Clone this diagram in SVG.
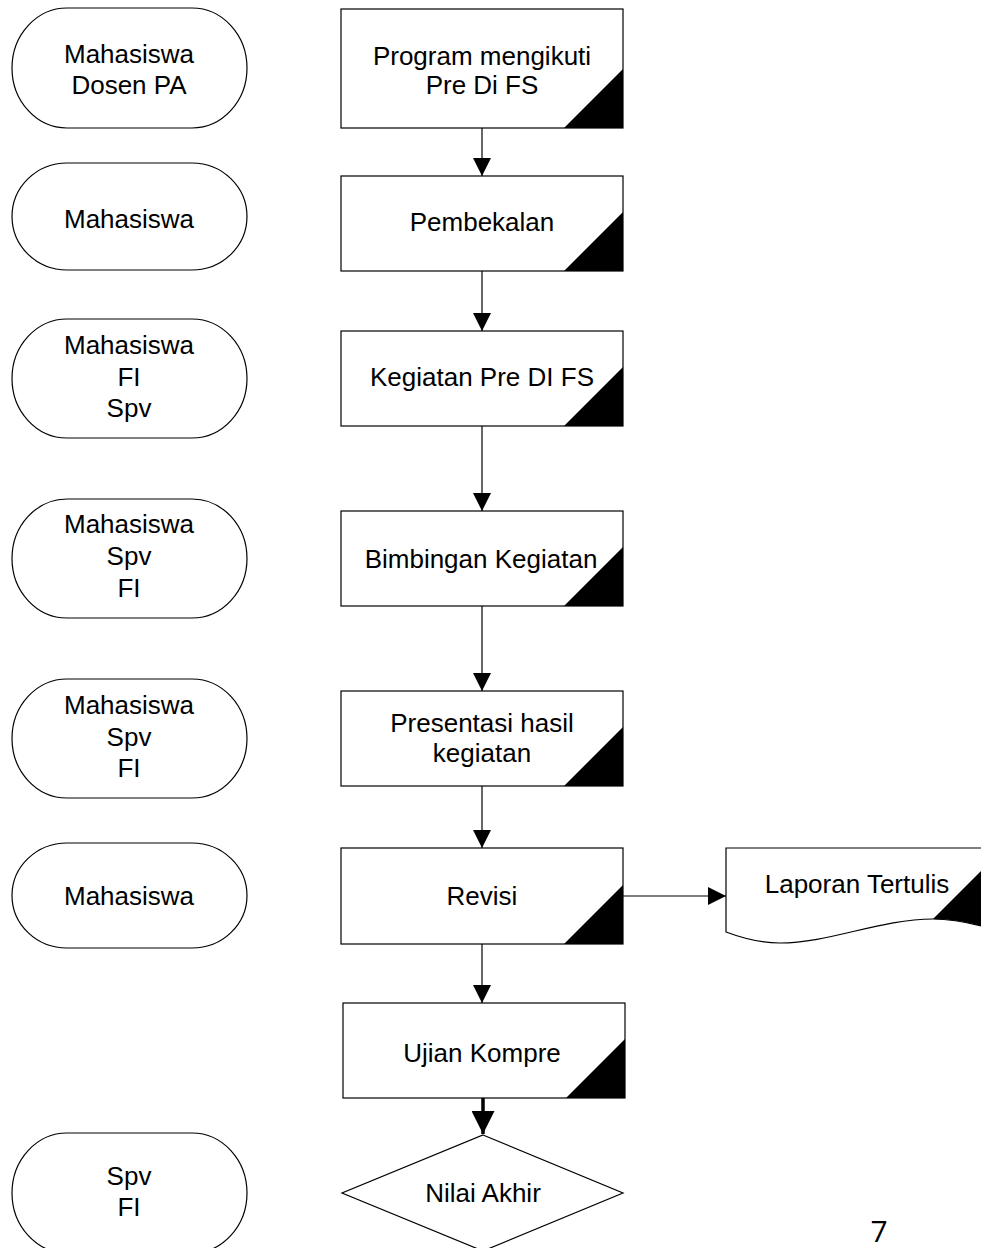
<svg xmlns="http://www.w3.org/2000/svg" width="981" height="1248" viewBox="0 0 981 1248">
<style>
  .shape { fill: #ffffff; stroke: #000000; stroke-width: 1.2; }
  .corner { fill: #000000; stroke: none; }
  .lbl { font-family: "Liberation Sans", Arial, sans-serif; font-size: 26px; fill: #000000; text-anchor: middle; }
  .conn { stroke: #000000; stroke-width: 1.2; fill: none; }
  .thick { stroke: #000000; stroke-width: 3.5; fill: none; }
</style>
<defs>
  <marker id="arr" markerWidth="18" markerHeight="18" refX="18" refY="9" orient="auto" markerUnits="userSpaceOnUse" viewBox="0 0 18 18">
    <path d="M0,0 L18,9 L0,18 Z" fill="#000000"/>
  </marker>
  <marker id="arrBig" markerWidth="23" markerHeight="23" refX="23" refY="11.5" orient="auto" markerUnits="userSpaceOnUse" viewBox="0 0 23 23">
    <path d="M0,0 L23,11.5 L0,23 Z" fill="#000000"/>
  </marker>
</defs>
<rect width="981" height="1248" fill="#ffffff"/>

<!-- Actor ovals -->
<g id="actor1">
  <path class="shape" d="M67,8 H192 A55,60 0 0 1 192,128 H67 A55,60 0 0 1 67,8 Z"/>
  <text class="lbl" x="129" y="63">Mahasiswa</text>
  <text class="lbl" x="129" y="94">Dosen PA</text>
</g>
<g id="actor2">
  <path class="shape" d="M67,163 H192 A55,53.5 0 0 1 192,270 H67 A55,53.5 0 0 1 67,163 Z"/>
  <text class="lbl" x="129" y="228">Mahasiswa</text>
</g>
<g id="actor3">
  <path class="shape" d="M67,319 H192 A55,59.5 0 0 1 192,438 H67 A55,59.5 0 0 1 67,319 Z"/>
  <text class="lbl" x="129" y="354">Mahasiswa</text>
  <text class="lbl" x="129" y="386">FI</text>
  <text class="lbl" x="129" y="417">Spv</text>
</g>
<g id="actor4">
  <path class="shape" d="M67,499 H192 A55,59.5 0 0 1 192,618 H67 A55,59.5 0 0 1 67,499 Z"/>
  <text class="lbl" x="129" y="533">Mahasiswa</text>
  <text class="lbl" x="129" y="565">Spv</text>
  <text class="lbl" x="129" y="597">FI</text>
</g>
<g id="actor5">
  <path class="shape" d="M67,679 H192 A55,59.5 0 0 1 192,798 H67 A55,59.5 0 0 1 67,679 Z"/>
  <text class="lbl" x="129" y="714">Mahasiswa</text>
  <text class="lbl" x="129" y="746">Spv</text>
  <text class="lbl" x="129" y="777">FI</text>
</g>
<g id="actor6">
  <path class="shape" d="M67,843 H192 A55,52.5 0 0 1 192,948 H67 A55,52.5 0 0 1 67,843 Z"/>
  <text class="lbl" x="129" y="905">Mahasiswa</text>
</g>
<g id="actor7">
  <path class="shape" d="M67,1133 H192 A55,60 0 0 1 192,1253 H67 A55,60 0 0 1 67,1133 Z"/>
  <text class="lbl" x="129" y="1185">Spv</text>
  <text class="lbl" x="129" y="1216">FI</text>
</g>

<!-- Process boxes -->
<g id="box1">
  <rect class="shape" x="341" y="9" width="282" height="119"/>
  <polygon class="corner" points="564,128 623,69 623,128"/>
  <text class="lbl" x="482" y="65">Program mengikuti</text>
  <text class="lbl" x="482" y="94">Pre Di FS</text>
</g>
<g id="box2">
  <rect class="shape" x="341" y="176" width="282" height="95"/>
  <polygon class="corner" points="564,271 623,212 623,271"/>
  <text class="lbl" x="482" y="231">Pembekalan</text>
</g>
<g id="box3">
  <rect class="shape" x="341" y="331" width="282" height="95"/>
  <polygon class="corner" points="564,426 623,367 623,426"/>
  <text class="lbl" x="482" y="386">Kegiatan Pre DI FS</text>
</g>
<g id="box4">
  <rect class="shape" x="341" y="511" width="282" height="95"/>
  <polygon class="corner" points="564,606 623,547 623,606"/>
  <text class="lbl" x="481" y="568">Bimbingan Kegiatan</text>
</g>
<g id="box5">
  <rect class="shape" x="341" y="691" width="282" height="95"/>
  <polygon class="corner" points="564,786 623,727 623,786"/>
  <text class="lbl" x="482" y="732">Presentasi hasil</text>
  <text class="lbl" x="482" y="762">kegiatan</text>
</g>
<g id="box6">
  <rect class="shape" x="341" y="848" width="282" height="96"/>
  <polygon class="corner" points="564,944 623,885 623,944"/>
  <text class="lbl" x="482" y="905">Revisi</text>
</g>
<g id="box7">
  <rect class="shape" x="343" y="1003" width="282" height="95"/>
  <polygon class="corner" points="566,1098 625,1039 625,1098"/>
  <text class="lbl" x="482" y="1062">Ujian Kompre</text>
</g>

<!-- Decision -->
<g id="decision">
  <polygon class="shape" points="483,1135 623,1193 483,1251 342,1193"/>
  <text class="lbl" x="483" y="1202">Nilai Akhir</text>
</g>

<!-- Document -->
<g id="document">
  <path class="shape" d="M726,848 H992 V929 C975,924 955,919 933,919 C880,919 830,943 780,943 C760,943 742,938 726,932 Z"/>
  <path class="corner" d="M933,919 L992,860 V929 C975,924 955,919 933,919 Z"/>
  <text class="lbl" x="857" y="893">Laporan Tertulis</text>
</g>

<!-- Connectors -->
<g id="connectors">
  <line class="conn" x1="482" y1="128" x2="482" y2="176" marker-end="url(#arr)"/>
  <line class="conn" x1="482" y1="271" x2="482" y2="331" marker-end="url(#arr)"/>
  <line class="conn" x1="482" y1="426" x2="482" y2="511" marker-end="url(#arr)"/>
  <line class="conn" x1="482" y1="606" x2="482" y2="691" marker-end="url(#arr)"/>
  <line class="conn" x1="482" y1="786" x2="482" y2="848" marker-end="url(#arr)"/>
  <line class="conn" x1="482" y1="944" x2="482" y2="1003" marker-end="url(#arr)"/>
  <line class="thick" x1="483" y1="1098" x2="483" y2="1134" marker-end="url(#arrBig)"/>
  <line class="conn" x1="623" y1="896" x2="726" y2="896" marker-end="url(#arr)"/>
</g>

<text x="879" y="1242" font-family="'Open Sans', 'Liberation Sans', sans-serif" font-size="30" fill="#000000" text-anchor="middle">7</text>
</svg>
